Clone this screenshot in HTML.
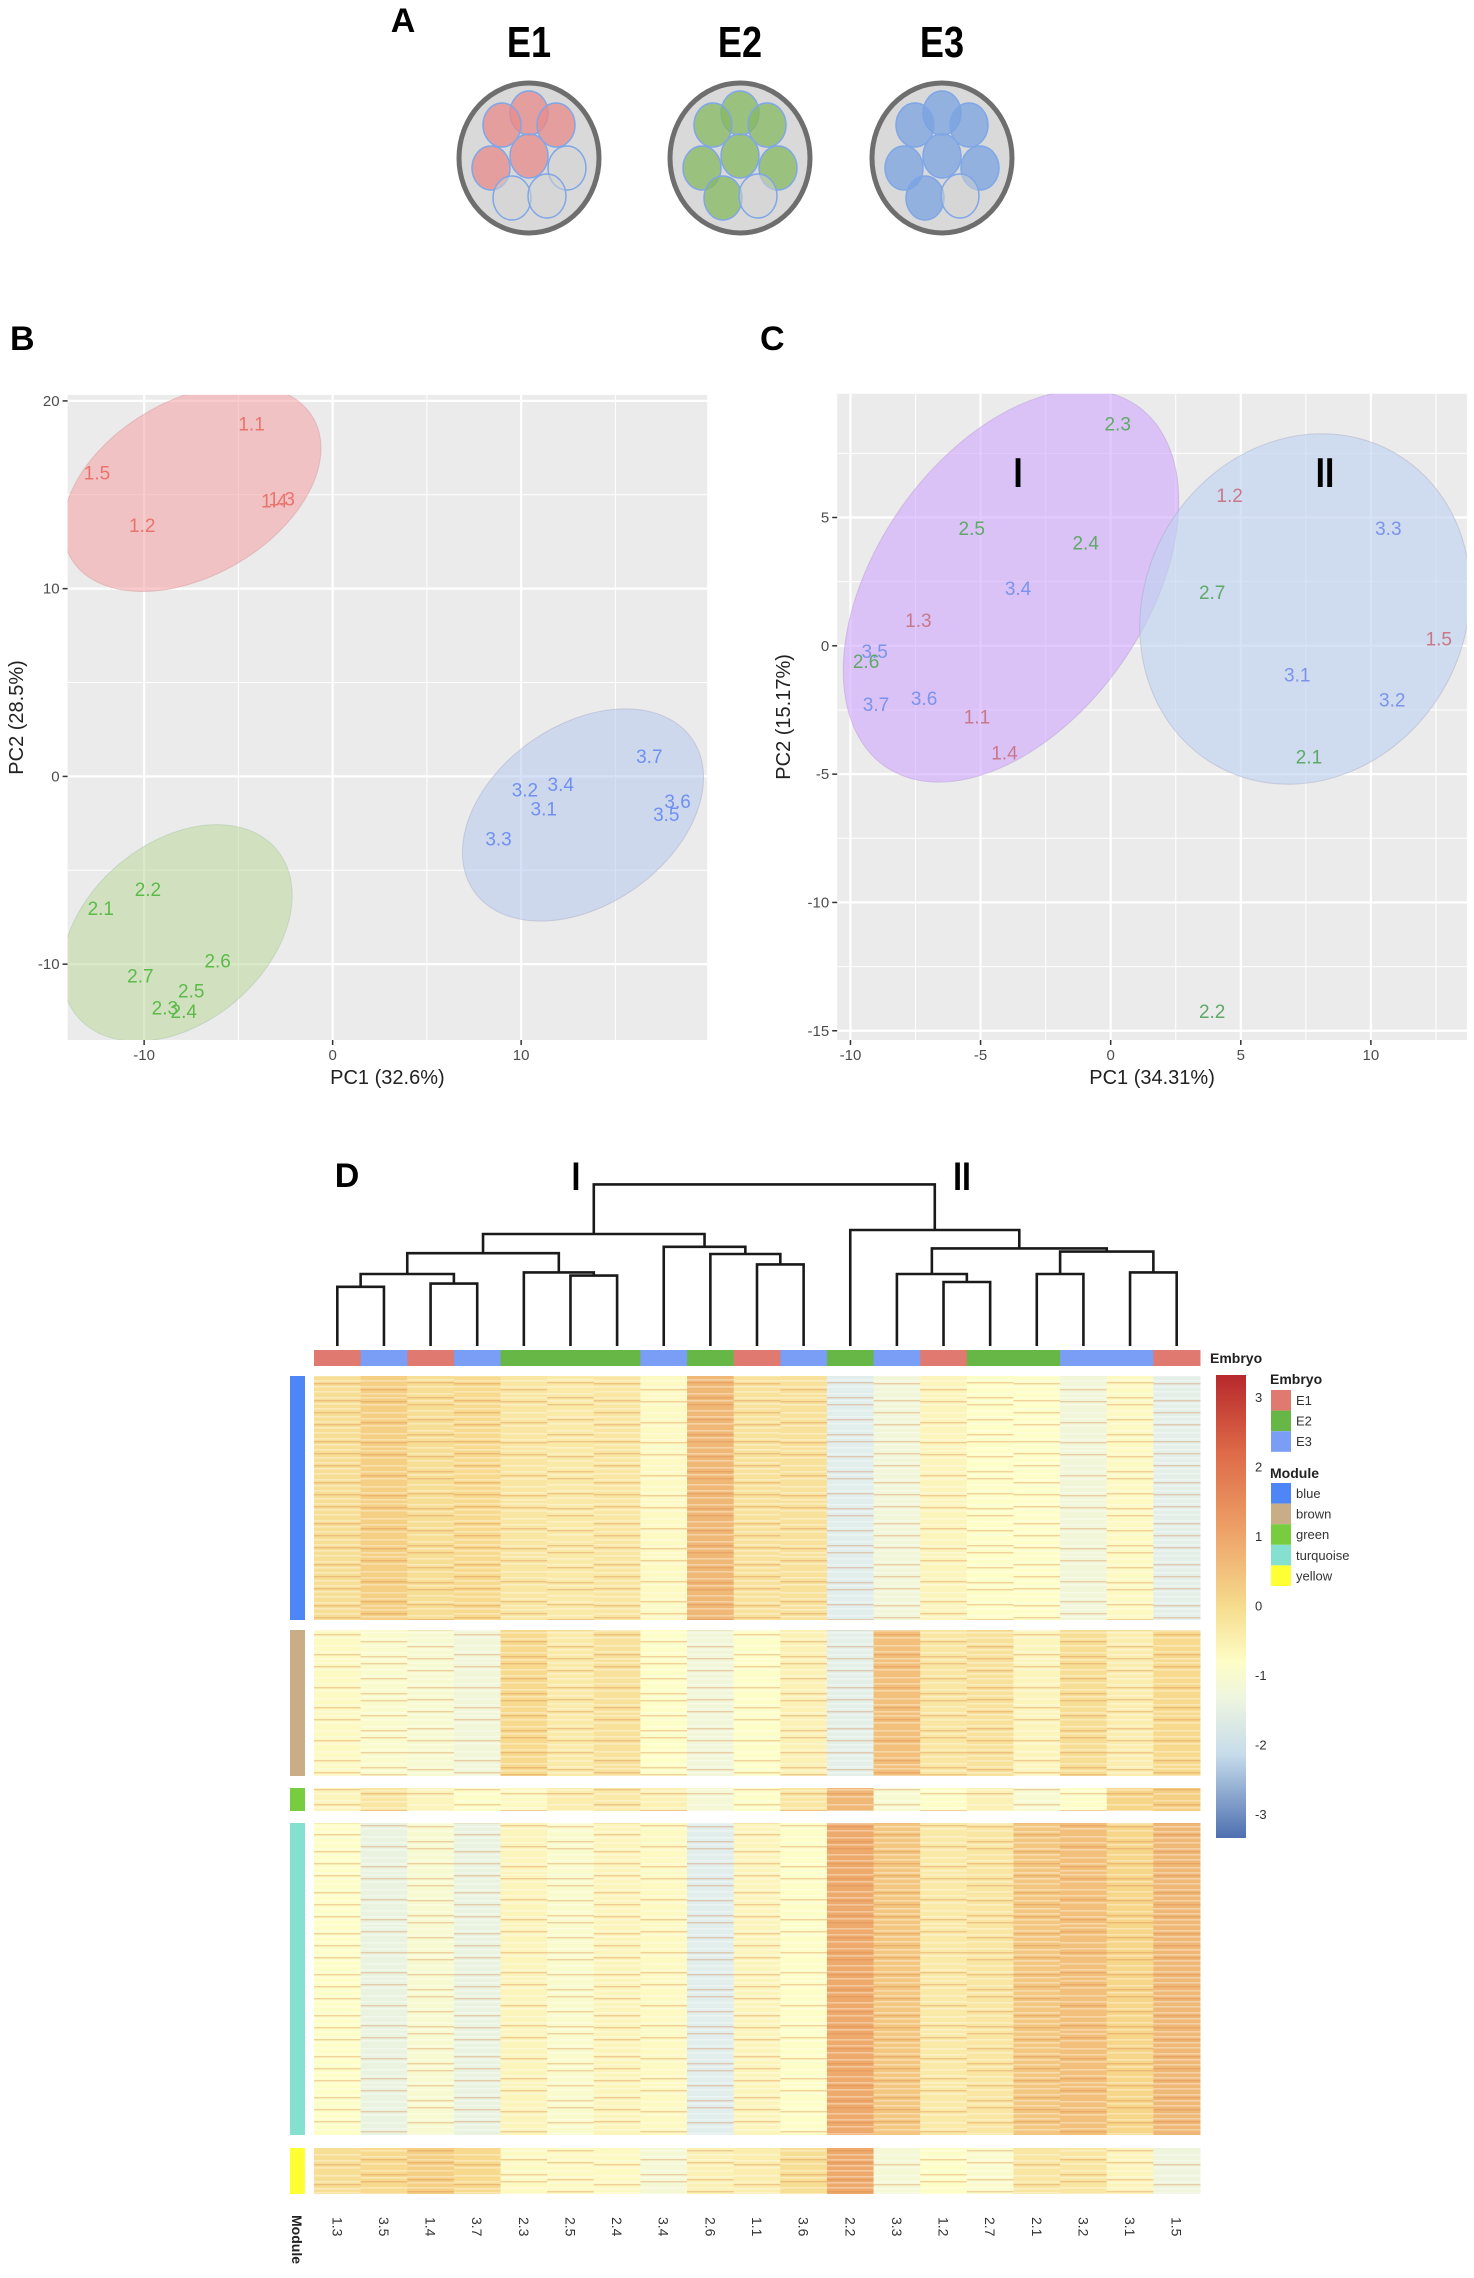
<!DOCTYPE html>
<html><head><meta charset="utf-8">
<style>
html,body{margin:0;padding:0;background:#fff;}
svg{display:block;font-family:"Liberation Sans",sans-serif;}
</style></head>
<body>
<svg id="fig" width="1474" height="2278" viewBox="0 0 1474 2278" xmlns="http://www.w3.org/2000/svg">
<defs>
<linearGradient id="cbar" x1="0" y1="0" x2="0" y2="1">
<stop offset="0" stop-color="#b7282c"/><stop offset="0.167" stop-color="#dd6a48"/><stop offset="0.333" stop-color="#eda066"/>
<stop offset="0.5" stop-color="#f6dc8e"/><stop offset="0.62" stop-color="#fdfdc6"/><stop offset="0.7" stop-color="#eef5e0"/>
<stop offset="0.82" stop-color="#c6dceb"/><stop offset="1" stop-color="#4e6fb0"/></linearGradient>
<clipPath id="clipB"><rect x="67.6" y="394.9" width="639.6" height="645.1"/></clipPath>
<clipPath id="clipC"><rect x="837.2" y="393.8" width="629.7" height="646.2"/></clipPath>
</defs>
<g id="panelA">
<text x="403" y="32" font-size="34" font-weight="bold" text-anchor="middle">A</text>
</g>
<g id="panelB"></g>
<g id="panelC"></g>
<g id="panelD"></g>
</svg>
<script>
// ---------- Panel B data ----------
const bLabels = ["1.1","1.5","1.4","1.3","1.2","3.7","3.4","3.2","3.1","3.6","3.5","3.3","2.2","2.1","2.6","2.7","2.5","2.3","2.4"];
const bX = [-4.3,-12.5,-3.1,-2.7,-10.1,16.8,12.1,10.2,11.2,18.3,17.7,8.8,-9.8,-12.3,-6.1,-10.2,-7.5,-8.9,-7.9];
const bY = [18.8,16.2,14.7,14.8,13.4,1.1,-0.4,-0.7,-1.7,-1.3,-2.0,-3.3,-6.0,-7.0,-9.8,-10.6,-11.4,-12.3,-12.5];
const bXTicks = [-10,0,10];
const bYTicks = [20,10,0,-10];
// ---------- Panel C data ----------
const cLabels = ["2.3","1.2","2.5","3.3","2.4","3.4","2.7","1.3","1.5","3.5","2.6","3.1","3.7","3.6","3.2","1.1","1.4","2.1","2.2"];
const cX = [0.27,4.57,-5.34,10.67,-0.96,-3.56,3.90,-7.39,12.61,-9.07,-9.4,7.17,-9.02,-7.17,10.82,-5.14,-4.08,7.62,3.90];
const cY = [8.66,5.87,4.59,4.59,4.03,2.26,2.10,1.0,0.28,-0.2,-0.6,-1.12,-2.26,-2.04,-2.1,-2.75,-4.15,-4.31,-14.23];
const cXTicks = [-10,-5,0,5,10];
const cYTicks = [5,0,-5,-10,-15];
// ---------- Panel D data ----------
const dCols = ["1.3","3.5","1.4","3.7","2.3","2.5","2.4","3.4","2.6","1.1","3.6","2.2","3.3","1.2","2.7","2.1","3.2","3.1","1.5"];
const dModules = ["blue","brown","green","turquoise","yellow"];
const blueMeans = [0.8,1.1,0.8,0.9,0.6,0.5,0.6,0.1,1.4,0.7,0.7,-0.9,-0.4,0.2,0.0,0.0,-0.4,0.1,-0.8];
const brownMeans = [0.1,-0.1,-0.2,-0.4,0.9,0.5,0.7,0.0,-0.4,0.0,0.3,-0.8,1.3,0.6,0.7,0.2,0.8,0.4,0.9];
const greenMeans = [0.2,0.6,0.2,0.0,0.1,0.4,0.5,0.3,-0.3,0.0,0.6,1.4,-0.2,0.0,0.3,-0.2,0.0,1.0,1.1];
const turqMeans = [0.0,-0.6,-0.2,-0.6,0.2,-0.1,0.2,0.1,-0.9,0.2,0.0,1.6,1.2,0.5,0.6,1.2,1.3,1.0,1.4];
const yellowMeans = [0.8,0.9,1.1,0.9,0.1,0.1,0.1,-0.3,0.3,0.4,0.8,1.6,-0.3,0.0,-0.1,0.6,0.6,0.2,-0.5];
// dendrogram merges (R hclust style: -k = leaf k, +k = merge k)
const mergeLeft  = [-1,-3,1,-6,-5,3,-10,-9,-8,6,-14,-13,-16,-18,13,12,-12,10];
const mergeRight = [-2,-4,2,-7,4,5,-11,7,8,9,-15,11,-17,-19,14,15,16,17];
const mergeHeight= [3.7,3.9,4.5,4.4,4.6,5.8,5.1,5.75,6.2,7.0,4.0,4.5,4.5,4.6,5.9,6.1,7.25,10.1];
const cbTicks = [3,2,1,0,-1,-2,-3];
</script>
<script>
const NS="http://www.w3.org/2000/svg";
function mk(tag,attrs,parent){const e=document.createElementNS(NS,tag);for(const k in attrs)e.setAttribute(k,attrs[k]);if(parent)parent.appendChild(e);return e;}
const EMB={"1":"#e07a70","2":"#67b747","3":"#7a9ef5"};

// ---------- Panel A ----------
(function(){
  const g=document.getElementById('panelA');
  const eggs=[{cx:529,lab:"E1",col:"#e88a8a",n:5},{cx:740,lab:"E2",col:"#86b860",n:7},{cx:942,lab:"E3",col:"#7aa3e0",n:7}];
  const cells=[[0,-45],[-27,-33],[27,-33],[0,-2],[-38,10],[38,10],[-17,40],[18,38]];
  const order=[0,1,2,3,4,6,5,7]; // E2/E3 colour all but the last
  eggs.forEach((e,i)=>{
    const t=mk('text',{x:e.cx,y:57,'font-size':44,'font-weight':'bold','text-anchor':'middle',transform:`translate(${e.cx},0) scale(0.82,1) translate(${-e.cx},0)`},g);
    t.textContent=e.lab;
    
    
    const o=mk('ellipse',{cx:e.cx,cy:158,rx:70,ry:75,fill:'#d9d9d9',stroke:'#6e6e6e','stroke-width':5},g);
    
    
    const coloured = i===0?[0,1,2,3,4]:[0,1,2,3,4,5,6];
    cells.forEach((c,j)=>{
      const col=coloured.includes(j)?e.col:'#d3d3d3';
      const el=mk('ellipse',{cx:e.cx+c[0],cy:158+c[1],rx:19,ry:22,fill:col,'fill-opacity':coloured.includes(j)?0.75:0.5,stroke:'#7fa6e6','stroke-width':1.5},g);
      
      
    });
  });
})();

// ---------- scatter panels ----------
function scatter(opt){
  const g=document.getElementById(opt.gid);
  const sx=v=>opt.px0+(v-opt.xr[0])/(opt.xr[1]-opt.xr[0])*(opt.px1-opt.px0);
  const sy=v=>opt.py1-(v-opt.yr[0])/(opt.yr[1]-opt.yr[0])*(opt.py1-opt.py0);
  const lab=mk('text',{x:opt.letterX,y:350,'font-size':34,'font-weight':'bold'},g);lab.textContent=opt.letter;
  
  
  const bg=mk('rect',{x:opt.px0,y:opt.py0,width:opt.px1-opt.px0,height:opt.py1-opt.py0,fill:'#ebebeb'},g);
  
  
  opt.minorX.forEach(v=>{const l=mk('line',{x1:sx(v),x2:sx(v),y1:opt.py0,y2:opt.py1,stroke:'#fff','stroke-width':1},g);});
  opt.minorY.forEach(v=>{const l=mk('line',{x1:opt.px0,x2:opt.px1,y1:sy(v),y2:sy(v),stroke:'#fff','stroke-width':1},g);});
  opt.xt.forEach(v=>{
    const l=mk('line',{x1:sx(v),x2:sx(v),y1:opt.py0,y2:opt.py1+5,stroke:'#fff','stroke-width':2.2},g);
    
    mk('line',{x1:sx(v),x2:sx(v),y1:opt.py1,y2:opt.py1+5,stroke:'#333','stroke-width':1.5},g);
    const t=mk('text',{x:sx(v),y:opt.py1+20,'font-size':15,fill:'#4d4d4d','text-anchor':'middle'},g);t.textContent=v;
    
  });
  opt.yt.forEach(v=>{
    const l=mk('line',{x1:opt.px0,x2:opt.px1,y1:sy(v),y2:sy(v),stroke:'#fff','stroke-width':2.2},g);
    
    mk('line',{x1:opt.px0-5,x2:opt.px0,y1:sy(v),y2:sy(v),stroke:'#333','stroke-width':1.5},g);
    const t=mk('text',{x:opt.px0-8,y:sy(v)+5,'font-size':15,fill:'#4d4d4d','text-anchor':'end'},g);t.textContent=v;
    
  });
  const cg=mk('g',{'clip-path':`url(#${opt.clip})`},g);
  opt.ells.forEach(e=>{
    const el=mk('ellipse',{cx:e.cx,cy:e.cy,rx:e.rx,ry:e.ry,transform:`rotate(${e.a} ${e.cx} ${e.cy})`,fill:e.fill,'fill-opacity':e.op,stroke:e.stroke,'stroke-opacity':0.35,'stroke-width':1},cg);
    
  });
  (opt.roman||[]).forEach(r=>{const t=mk('text',{x:r.x,y:r.y,'font-size':42,'font-weight':'bold','text-anchor':'middle',transform:`translate(${r.x},0) scale(0.8,1) translate(${-r.x},0)`},g);t.textContent=r.t;});
  opt.labels.forEach((s,i)=>{
    const t=mk('text',{x:sx(opt.xs[i]),y:sy(opt.ys[i])+7,'font-size':19,fill:opt.colors[s[0]],'text-anchor':'middle'},g);
    t.textContent=s;
    
    
  });
  const xt=mk('text',{x:(opt.px0+opt.px1)/2,y:opt.py1+44,'font-size':20,fill:'#222','text-anchor':'middle'},g);xt.textContent=opt.xtitle;
  
  const yc=(opt.py0+opt.py1)/2;
  const yt=mk('text',{x:opt.ytx,y:yc,'font-size':20,fill:'#222','text-anchor':'middle',transform:`rotate(-90 ${opt.ytx} ${yc})`},g);yt.textContent=opt.ytitle;
  
}
scatter({gid:'panelB',letter:'B',letterX:10,clip:'clipB',px0:67.6,px1:707.2,py0:394.9,py1:1040,xr:[-14.06,19.87],yr:[-14.04,20.32],
  xt:bXTicks,yt:bYTicks,minorX:[-5,5,15],minorY:[15,5,-5],labels:bLabels,xs:bX,ys:bY,
  colors:{"1":"#e8746c","2":"#5cba4a","3":"#6f90f0"},xtitle:'PC1 (32.6%)',ytitle:'PC2 (28.5%)',ytx:23,
  ells:[{cx:192,cy:488,rx:140,ry:88,a:-30,fill:'#f4a0a4',op:0.55,stroke:'#c88',name:'ellipse-e1'},
        {cx:177,cy:933,rx:130,ry:90,a:-40,fill:'#bcd99a',op:0.55,stroke:'#9b9',name:'ellipse-e2'},
        {cx:583,cy:815,rx:133,ry:90,a:-35,fill:'#b4c8ef',op:0.55,stroke:'#99b',name:'ellipse-e3'}]});
scatter({gid:'panelC',letter:'C',letterX:760,clip:'clipC',px0:837.2,px1:1466.9,py0:393.8,py1:1040,xr:[-10.51,13.69],yr:[-15.36,9.82],
  xt:cXTicks,yt:cYTicks,minorX:[-7.5,-2.5,2.5,7.5,12.5],minorY:[7.5,2.5,-2.5,-7.5,-12.5],labels:cLabels,xs:cX,ys:cY,
  colors:{"1":"#c97889","2":"#5fa868","3":"#7b93ea"},xtitle:'PC1 (34.31%)',ytitle:'PC2 (15.17%)',ytx:790,
  roman:[{x:1018,y:487,t:'I'},{x:1325,y:487,t:'II'}],
  ells:[{cx:1011,cy:586,rx:220,ry:135,a:-55,fill:'#cfa6ff',op:0.6,stroke:'#a8c',name:'ellipse-cluster-i'},
        {cx:1305,cy:609,rx:180,ry:160,a:-60,fill:'#c0d2f0',op:0.65,stroke:'#99b',name:'ellipse-cluster-ii'}]});

// ---------- Panel D ----------
(function(){
  const g=document.getElementById('panelD');
  const x0=314,x1=1200,n=dCols.length,cw=(x1-x0)/n;
  const colX=i=>x0+cw*i, colC=i=>x0+cw*(i+0.5);
  const hY=h=>1346-h*16;
  const L=mk('text',{x:347,y:1187,'font-size':34,'font-weight':'bold','text-anchor':'middle'},g);L.textContent='D';
  
  [['I',576],['II',962]].forEach(r=>{const t=mk('text',{x:r[1],y:1190,'font-size':40,'font-weight':'bold','text-anchor':'middle',transform:`translate(${r[1]},0) scale(0.8,1) translate(${-r[1]},0)`},g);t.textContent=r[0];});
  // dendrogram
  const mx=[],my=[];
  const pos=r=>r<0?[colC(-r-1),1346]:[mx[r-1],my[r-1]];
  mergeLeft.forEach((a,i)=>{
    const pa=pos(a),pb=pos(mergeRight[i]),y=hY(mergeHeight[i]);
    mx.push((pa[0]+pb[0])/2);my.push(y);
    const p=mk('path',{d:`M${pa[0]},${pa[1]}V${y}H${pb[0]}V${pb[1]}`,fill:'none',stroke:'#1a1a1a','stroke-width':2.6},g);
    
  });
  // embryo annotation bar
  dCols.forEach((c,i)=>{
    const r=mk('rect',{x:colX(i),y:1350,width:cw+0.5,height:16,fill:EMB[c[0]]},g);
    
  });
  const et=mk('text',{x:1210,y:1363,'font-size':14,'font-weight':'bold',fill:'#222'},g);et.textContent='Embryo';
  
  // colour scale
  const stops=[[3,[183,40,44]],[2,[232,140,90]],[1,[246,214,136]],[0,[253,253,200]],[-1,[222,236,240]],[-2,[160,192,218]],[-3,[78,111,176]]];
  function colr(v){v=Math.max(-3,Math.min(3,v));for(let k=0;k<stops.length-1;k++){const a=stops[k],b=stops[k+1];if(v<=a[0]&&v>=b[0]){const t=(a[0]-v)/(a[0]-b[0]);const c=a[1].map((x,j)=>Math.round(x+(b[1][j]-x)*t));return `rgb(${c})`;}}return '#fff';}
  // texture patterns (styling only)
  const defs=document.querySelector('defs');
  const patSpecs=[[41,[3,9,14,22,27,33,38],[6,18,30]],[53,[2,8,15,19,26,34,40,47],[11,23,44]],[37,[4,10,17,24,31],[13,28,35]]];
  patSpecs.forEach((p,k)=>{
    const pt=mk('pattern',{id:'tex'+k,width:50,height:p[0],patternUnits:'userSpaceOnUse'},defs);
    p[1].forEach(y=>mk('rect',{x:0,y:y,width:50,height:1.6,fill:'#fff','fill-opacity':0.35},pt));
    p[2].forEach(y=>mk('rect',{x:0,y:y,width:50,height:1.4,fill:'#d9804a','fill-opacity':0.35},pt));
  });
  const sections=[[blueMeans,1376,1620,'#4f86f7'],[brownMeans,1630,1776,'#c8ad86'],[greenMeans,1788,1811,'#78cc40'],[turqMeans,1823,2135,'#86e0cf'],[yellowMeans,2148,2194,'#ffff33']];
  sections.forEach((s,m)=>{
    const mb=mk('rect',{x:290,y:s[1],width:15,height:s[2]-s[1],fill:s[3]},g);
    
    s[0].forEach((v,i)=>{
      const r=mk('rect',{x:colX(i),y:s[1],width:cw+0.5,height:s[2]-s[1],fill:colr(v)},g);
      
      
      mk('rect',{x:colX(i),y:s[1],width:cw+0.5,height:s[2]-s[1],fill:`url(#tex${(i*7+m)%3})`},g);
    });
  });
  dCols.forEach((c,i)=>{
    const x=colC(i)-5,y=2217;
    const t=mk('text',{x:x,y:y,'font-size':14,fill:'#333',transform:`rotate(90 ${x} ${y})`},g);t.textContent=c;
    
  });
  const mt=mk('text',{x:292,y:2215,'font-size':14,'font-weight':'bold',fill:'#222',transform:'rotate(90 292 2215)'},g);mt.textContent='Module';
  
  // colorbar
  const cb=mk('rect',{x:1216,y:1375,width:30,height:463,fill:'url(#cbar)'},g);
  
  const cbY=v=>1398+(3-v)*69.5;
  cbTicks.forEach(v=>{const t=mk('text',{x:1255,y:cbY(v)+4,'font-size':13,fill:'#333'},g);t.textContent=v;});
  // legends
  const lt=mk('text',{x:1270,y:1384,'font-size':14,'font-weight':'bold',fill:'#222'},g);lt.textContent='Embryo';
  
  [['E1','#e07a70'],['E2','#67b747'],['E3','#7a9ef5']].forEach((e,i)=>{
    const r=mk('rect',{x:1271,y:1390+i*20.6,width:20,height:20.6,fill:e[1]},g);
    const t=mk('text',{x:1296,y:1405+i*20.6,'font-size':13,fill:'#333'},g);t.textContent=e[0];
  });
  const ml=mk('text',{x:1270,y:1478,'font-size':14,'font-weight':'bold',fill:'#222'},g);ml.textContent='Module';
  
  [['blue','#4f86f7'],['brown','#c8ad86'],['green','#78cc40'],['turquoise','#86e0cf'],['yellow','#ffff33']].forEach((e,i)=>{
    const r=mk('rect',{x:1271,y:1483+i*20.6,width:20,height:20.6,fill:e[1]},g);
    const t=mk('text',{x:1296,y:1498+i*20.6,'font-size':13,fill:'#333'},g);t.textContent=e[0];
  });
})();
</script>
</body></html>
